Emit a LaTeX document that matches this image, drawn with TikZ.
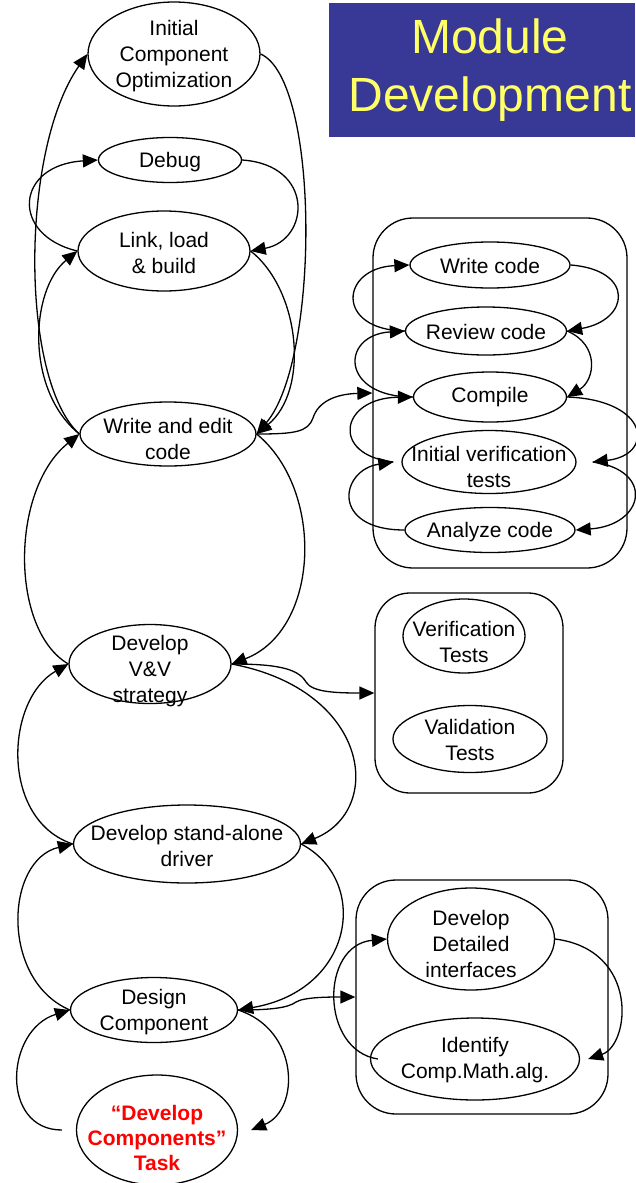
\documentclass[tikz,border=0pt]{standalone}
\usepackage{fontspec}
\setmainfont{Liberation Sans}
\usetikzlibrary{shapes.geometric,arrows.meta}
\definecolor{titleblue}{RGB}{56,56,150}
\definecolor{titleyellow}{RGB}{255,255,102}
\newcommand\ovaltext[2][3pt]{\raisebox{\dimexpr-.25em-#1\relax}[0pt][0pt]{\makebox[0pt]{\begin{tabular}{@{}c@{}}#2\end{tabular}}}}
\begin{document}
\begin{tikzpicture}[x=1pt,y=-1pt,line width=1.3pt,font=\fontsize{21}{26}\selectfont,
  oval/.style={ellipse,draw,inner sep=0pt},
  grp/.style={draw,rounded corners=40pt,inner sep=0pt},
  flow/.style={-{Triangle[length=15pt,width=13pt]}},
  titlebox/.style={fill=titleblue,text=titleyellow,align=center,inner sep=0pt,font=\fontsize{48}{58}\selectfont}]
\useasboundingbox (0,0) rectangle (635,1183);
\node[titlebox,minimum width=306pt,minimum height=134pt] (title) at (482,70) {\hspace*{16pt}\raisebox{-4pt}{Module}\\\hspace*{16pt}\raisebox{-4pt}{Development}};
\node[grp,minimum width=254pt,minimum height=350pt] (box1) at (500,393) {};
\node[grp,rounded corners=35pt,minimum width=188pt,minimum height=200pt] (box2) at (469,693) {};
\node[grp,minimum width=252pt,minimum height=234pt] (box3) at (482,997) {};
\node[oval,minimum width=172pt,minimum height=104pt] (ico) at (174,54) {\ovaltext[2pt]{Initial\\Component\\Optimization}};
\node[oval,minimum width=143pt,minimum height=45pt] (debug) at (170,160) {\ovaltext[2pt]{Debug}};
\node[oval,minimum width=172pt,minimum height=80pt] (link) at (164,251) {\ovaltext[4pt]{Link, load\\\& build}};
\node[oval,minimum width=176pt,minimum height=64pt] (wec) at (168,434) {\ovaltext[7pt]{Write and edit\\code}};
\node[oval,minimum width=162pt,minimum height=79pt] (vv) at (150,664) {\ovaltext[7pt]{Develop\\V\&V\\strategy}};
\node[oval,minimum width=227pt,minimum height=78pt] (driver) at (187,844) {\ovaltext[4pt]{Develop stand-alone\\driver}};
\node[oval,minimum width=167pt,minimum height=65pt] (design) at (154,1010) {\ovaltext[2pt]{Design\\Component}};
\node[oval,minimum width=161pt,minimum height=110pt,text=red,font=\fontsize{21}{25}\selectfont\bfseries] (task) at (157,1130) {\ovaltext[10pt]{“Develop\\Components”\\Task}};
\node[oval,minimum width=160pt,minimum height=46pt] (wcode) at (490,265) {\ovaltext{Write code}};
\node[oval,minimum width=161pt,minimum height=48pt] (rcode) at (486,331) {\ovaltext{Review code}};
\node[oval,minimum width=153pt,minimum height=50pt] (comp) at (490,397) {\ovaltext[0pt]{Compile}};
\node[oval,minimum width=174pt,minimum height=63pt] (ivt) at (489,462) {\ovaltext[7pt]{Initial verification\\tests}};
\node[oval,minimum width=170pt,minimum height=45pt] (acode) at (490,530) {\ovaltext[2pt]{Analyze code}};
\node[oval,minimum width=122pt,minimum height=74pt] (verif) at (464,636) {\ovaltext[8pt]{Verification\\Tests}};
\node[oval,minimum width=154pt,minimum height=67pt] (valid) at (470,739) {\ovaltext{Validation\\Tests}};
\node[oval,minimum width=167pt,minimum height=102pt] (ddi) at (471,939) {\ovaltext[7pt]{Develop\\Detailed\\interfaces}};
\node[oval,minimum width=209pt,minimum height=82pt] (ident) at (475,1059) {\ovaltext[1pt]{Identify\\Comp.Math.alg.}};
\draw[flow] (wec.west) .. controls (20,380) and (20,150) .. (ico.west);
\draw[flow] (ico.east) .. controls (320,80) and (320,360) .. (wec.east);
\draw[flow] (link.west) .. controls (10,235) and (15,165) .. (debug.west);
\draw[flow] (debug.east) .. controls (315,165) and (310,240) .. (link.east);
\draw[flow] (wec.west) .. controls (25,390) and (30,290) .. (link.west);
\draw[flow] (link.east) .. controls (300,290) and (310,390) .. (wec.east);
\draw[flow] (vv.west) .. controls (10,630) and (10,490) .. (wec.west);
\draw[flow] (wec.east) .. controls (325,490) and (320,630) .. (vv.east);
\draw[flow] (driver.west) .. controls (0,820) and (5,700) .. (vv.west);
\draw[flow] (vv.east) .. controls (370,690) and (385,810) .. (driver.east);
\draw[flow] (design.west) .. controls (0,980) and (5,860) .. (driver.west);
\draw[flow] (driver.east) .. controls (370,880) and (355,990) .. (design.east);
\draw[flow] ([xshift=-14pt]task.west) .. controls (0,1130) and (5,1030) .. (design.west);
\draw[flow] (design.east) .. controls (300,1030) and (300,1110) .. ([xshift=13pt]task.east);
\draw[flow] (wcode.east) .. controls (635,270) and (630,320) .. (rcode.east);
\draw[flow] (rcode.west) .. controls (335,330) and (340,268) .. (wcode.west);
\draw[flow] (rcode.east) .. controls (600,345) and (595,380) .. (comp.east);
\draw[flow] (comp.west) .. controls (340,397) and (340,335) .. (rcode.west);
\draw[flow] (comp.east) .. controls (650,400) and (655,455) .. ([xshift=16pt]ivt.east);
\draw[flow] ([xshift=-8pt]ivt.west) .. controls (330,455) and (340,398) .. (comp.west);
\draw[flow] ([xshift=16pt]ivt.east) .. controls (655,470) and (645,525) .. (acode.east);
\draw[flow] (acode.west) .. controls (330,530) and (340,470) .. ([xshift=-8pt]ivt.west);
\draw[flow] (ddi.east) .. controls (640,950) and (630,1045) .. ([xshift=8pt]ident.east);
\draw[flow] ([xshift=8pt]ident.west) .. controls (320,1050) and (320,945) .. (ddi.west);
\draw[flow] (wec.east) .. controls (295,434) and (308,432) .. (313,418) .. controls (318,402) and (335,394) .. (box1.west);
\draw[flow] (vv.east) .. controls (275,664) and (298,668) .. (306,682) .. controls (312,692) and (335,693) .. (box2.west);
\draw[flow] (design.east) .. controls (270,1010) and (288,1008) .. (296,1002) .. controls (304,997) and (330,997) .. (box3.west);
\end{tikzpicture}
\end{document}
